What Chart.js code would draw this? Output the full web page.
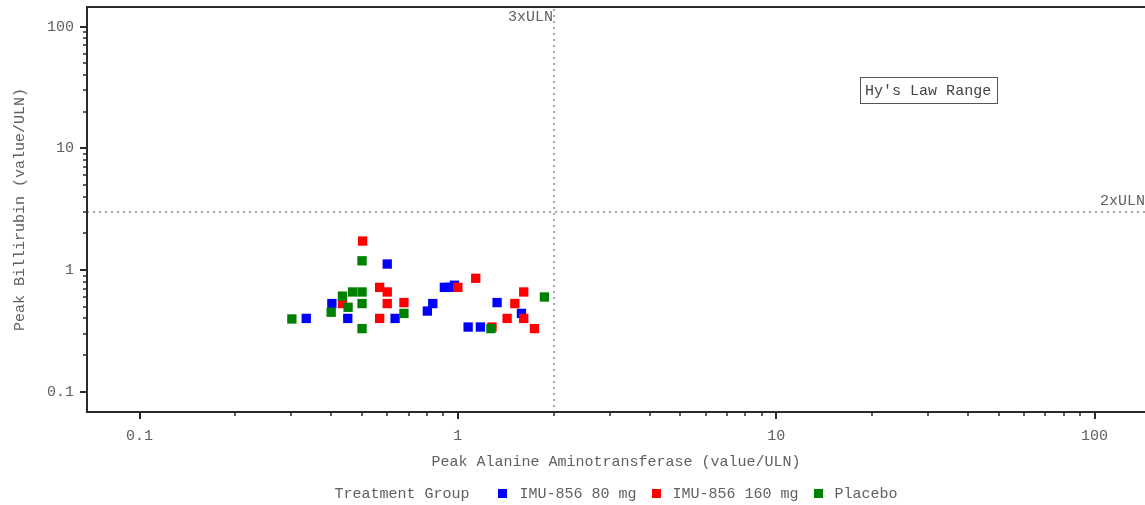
<!DOCTYPE html>
<html>
<head>
<meta charset="utf-8">
<script src="https://cdn.jsdelivr.net/npm/chart.js@4/dist/chart.umd.min.js"></script>
<style>
  html, body { margin: 0; padding: 0; background: #fff; overflow: hidden; }
  #wrap { width: 1145px; height: 505px; position: relative; }
</style>
</head>
<body>
<div id="wrap"><canvas id="hyplot" width="1145" height="505"></canvas></div>
<script>
// Treatment groups
const groupNames = ['IMU-856 80 mg', 'IMU-856 160 mg', 'Placebo'];
const groupColors = ['#0000ff', '#ff0000', '#008000'];

// Peak ALT (x) and peak bilirubin (y), both as multiples of ULN
const alt80  = [0.334, 0.402, 0.451, 0.60, 0.635, 0.802, 0.834, 0.907, 0.94, 0.975, 1.077, 1.177, 1.328, 1.584];
const bili80 = [0.40,  0.53,  0.40,  1.12, 0.40,  0.46,  0.53,  0.72,  0.72, 0.75,  0.34,  0.34,  0.54,  0.44];

const alt160  = [0.434, 0.502, 0.568, 0.60, 0.60, 0.677, 0.568, 1.00, 1.138, 1.28, 1.428, 1.51, 1.61, 1.61, 1.74];
const bili160 = [0.53,  1.73,  0.72,  0.66, 0.53, 0.54,  0.40,  0.72, 0.855, 0.34, 0.40,  0.53, 0.66, 0.40, 0.33];

const altPbo  = [0.301, 0.40, 0.434, 0.452, 0.467, 0.50, 0.50, 0.50, 0.50, 0.677, 1.27, 1.87];
const biliPbo = [0.396, 0.45, 0.61,  0.494, 0.66,  0.66, 1.19, 0.53, 0.33, 0.44,  0.33, 0.60];

// Axis ticks: labelled decades plus unlabelled minor ticks in between
const majorTicks = [0.1, 1, 10, 100];
const majorTickLabels = ['0.1', '1', '10', '100'];
const minorMultiples = [2, 3, 4, 5, 6, 7, 8, 9];

// Reference limits
const altLimit = 2;     // vertical line
const altLimitLabel = '3xULN';
const biliLimit = 3;    // horizontal line
const biliLimitLabel = '2xULN';
const hyLabel = "Hy's Law Range";
const hyLabelAt = [30, 30];

const legendTitle = 'Treatment Group';

const FONT = "'Liberation Mono', 'Courier New', monospace";
const TEXT = '#606060';
const AXIS = '#2a2a2a';

const tickValues = [];
majorTicks.forEach((m, i) => {
  tickValues.push(m);
  if (i < majorTicks.length - 1) minorMultiples.forEach(k => tickValues.push(+(m * k).toPrecision(3)));
});
tickValues.sort((a, b) => a - b);

function tickLabel(v) {
  const i = majorTicks.indexOf(v);
  return i >= 0 ? majorTickLabels[i] : '';
}

function pts(xs, ys) { return xs.map((x, i) => ({ x: x, y: ys[i] })); }

const seriesX = [alt80, alt160, altPbo];
const seriesY = [bili80, bili160, biliPbo];

const datasets = groupNames.map((name, i) => ({
  label: name,
  data: pts(seriesX[i], seriesY[i]),
  pointStyle: 'rect',
  pointRadius: 6.6,
  pointHoverRadius: 6.6,
  borderWidth: 0,
  backgroundColor: groupColors[i],
  borderColor: groupColors[i],
  order: groupNames.length - i
}));

const decorations = {
  id: 'decorations',
  beforeDatasetsDraw(chart) {
    const { ctx, chartArea: a, scales: { x, y } } = chart;
    ctx.save();
    // reference lines
    ctx.strokeStyle = '#a8a8a8';
    ctx.lineWidth = 2;
    ctx.setLineDash([2, 4]);
    const vx = Math.round(x.getPixelForValue(altLimit));
    ctx.beginPath(); ctx.moveTo(vx, a.top + 2); ctx.lineTo(vx, a.bottom); ctx.stroke();
    const hy = Math.round(y.getPixelForValue(biliLimit));
    ctx.beginPath(); ctx.moveTo(a.left, hy); ctx.lineTo(a.right, hy); ctx.stroke();
    ctx.setLineDash([]);

    ctx.font = '15px ' + FONT;
    ctx.fillStyle = TEXT;
    ctx.textBaseline = 'middle';
    ctx.textAlign = 'right';
    ctx.fillText(altLimitLabel, vx - 1, a.top + 10);
    ctx.fillText(biliLimitLabel, a.right, hy - 11);

    // Hy's law box
    const cx = x.getPixelForValue(hyLabelAt[0]);
    const cy = y.getPixelForValue(hyLabelAt[1]);
    const tw = ctx.measureText(hyLabel).width;
    const bw = Math.round(tw + 11), bh = 26;
    const bx = Math.round(cx - bw / 2) + 0.5, by = Math.round(cy - bh / 2) + 0.5;
    ctx.strokeStyle = '#555';
    ctx.lineWidth = 1;
    ctx.strokeRect(bx, by, bw, bh);
    ctx.fillStyle = '#444';
    ctx.textAlign = 'center';
    ctx.fillText(hyLabel, cx, cy + 1);
    ctx.restore();
  },
  afterDraw(chart) {
    const { ctx, chartArea: a, scales: { x, y } } = chart;
    ctx.save();
    // frame
    ctx.strokeStyle = AXIS;
    ctx.lineWidth = 2;
    ctx.beginPath();
    ctx.moveTo(a.right, a.top); ctx.lineTo(a.left, a.top);
    ctx.lineTo(a.left, a.bottom); ctx.lineTo(a.right, a.bottom);
    ctx.stroke();
    // tick marks
    tickValues.forEach(v => {
      const major = majorTicks.includes(v);
      ctx.lineWidth = major ? 2 : 1.5;
      const len = major ? 7 : 4;
      const px = Math.round(x.getPixelForValue(v));
      ctx.beginPath(); ctx.moveTo(px, a.bottom); ctx.lineTo(px, a.bottom + len); ctx.stroke();
      const py = Math.round(y.getPixelForValue(v));
      ctx.beginPath(); ctx.moveTo(a.left - len, py); ctx.lineTo(a.left, py); ctx.stroke();
    });

    // legend row
    ctx.font = '15px ' + FONT;
    ctx.textBaseline = 'middle';
    ctx.textAlign = 'left';
    const box = 9, gapBox = 12, gapItem = 15, gapTitle = 29;
    let total = ctx.measureText(legendTitle).width + gapTitle;
    chart.data.datasets.forEach((d, i) => {
      total += box + gapBox + ctx.measureText(d.label).width + (i < chart.data.datasets.length - 1 ? gapItem : 0);
    });
    let lx = (a.left + a.right) / 2 - total / 2;
    const ly = 494;
    ctx.fillStyle = TEXT;
    ctx.fillText(legendTitle, lx, ly);
    lx += ctx.measureText(legendTitle).width + gapTitle;
    chart.data.datasets.forEach(d => {
      ctx.fillStyle = d.backgroundColor;
      ctx.fillRect(Math.round(lx), Math.round(ly - box / 2 - 1), box, box);
      lx += box + gapBox;
      ctx.fillStyle = TEXT;
      ctx.fillText(d.label, lx, ly);
      lx += ctx.measureText(d.label).width + gapItem;
    });
    ctx.restore();
  }
};

const tickFont = { family: FONT, size: 15 };

new Chart(document.getElementById('hyplot'), {
  type: 'scatter',
  data: { datasets: datasets },
  options: {
    responsive: false,
    animation: false,
    devicePixelRatio: 1,
    layout: { autoPadding: false, padding: { top: 7, left: 0, right: 0, bottom: 0 } },
    plugins: { legend: { display: false }, tooltip: { enabled: false } },
    scales: {
      x: {
        type: 'logarithmic',
        position: 'bottom',
        bounds: 'data',
        min: 0.0684,
        max: 144,
        afterBuildTicks: s => { s.ticks = tickValues.map(v => ({ value: v })); },
        afterFit: s => { s.height = 93; s.paddingLeft = 0; s.paddingRight = 0; },
        grid: { display: false, drawTicks: false },
        border: { display: false },
        ticks: {
          autoSkip: false, maxRotation: 0, minRotation: 0,
          padding: 15, color: TEXT, font: tickFont,
          callback: v => tickLabel(v)
        },
        title: {
          display: true,
          text: 'Peak Alanine Aminotransferase (value/ULN)',
          color: TEXT, font: tickFont,
          padding: { top: 0, bottom: 34 }
        }
      },
      y: {
        type: 'logarithmic',
        position: 'left',
        bounds: 'data',
        min: 0.0681,
        max: 145,
        afterBuildTicks: s => { s.ticks = tickValues.map(v => ({ value: v })); },
        afterFit: s => { s.width = 87; s.paddingTop = 0; s.paddingBottom = 0; },
        grid: { display: false, drawTicks: false },
        border: { display: false },
        ticks: {
          autoSkip: false,
          padding: 13, color: TEXT, font: tickFont,
          callback: v => tickLabel(v)
        },
        title: {
          display: true,
          text: 'Peak Billirubin (value/ULN)',
          color: TEXT, font: tickFont,
          padding: { top: 11, bottom: 0 }
        }
      }
    }
  },
  plugins: [decorations]
});
</script>
</body>
</html>
